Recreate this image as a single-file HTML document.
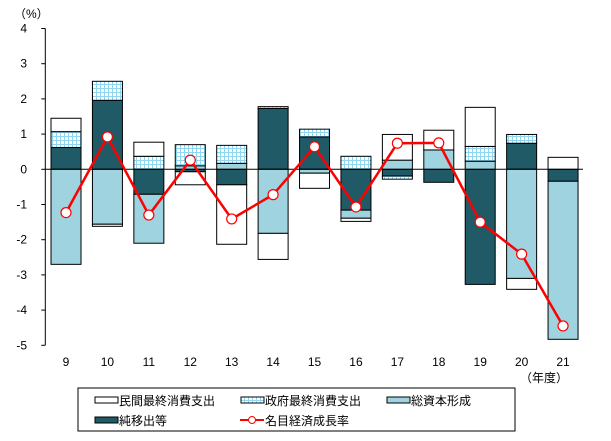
<!DOCTYPE html>
<html><head><meta charset="utf-8"><style>
body{margin:0;background:#fff;}
svg text{font-family:"Liberation Sans","Noto Sans CJK JP",sans-serif;font-size:12px;fill:#000;}
</style></head><body>
<svg width="611" height="436" xmlns="http://www.w3.org/2000/svg">
<defs>
<pattern id="grid" width="4" height="4" patternUnits="userSpaceOnUse">
<rect width="4" height="4" fill="#fff"/>
<path d="M0 0.5H4M0.5 0V4" stroke="#8fd6f0" stroke-width="1"/>
</pattern>
</defs>
<g id="plot"></g>
<text x="14" y="18">（%）</text>
<text x="520" y="382">（年度）</text>
<g>
<rect x="78" y="388" width="437" height="43" fill="#fff" stroke="#000"/>
<rect x="95" y="397" width="23" height="6" fill="#fff" stroke="#000"/>
<text x="119" y="405">民間最終消費支出</text>
<rect x="241" y="397" width="23" height="6" fill="url(#grid)" stroke="#000"/>
<text x="265" y="405">政府最終消費支出</text>
<rect x="387" y="397" width="23" height="6" fill="#9fd3e0" stroke="#000"/>
<text x="411" y="405">総資本形成</text>
<rect x="95" y="417" width="23" height="6" fill="#1f5a66" stroke="#000"/>
<text x="119" y="425">純移出等</text>
<line x1="240" y1="420" x2="264" y2="420" stroke="#f00" stroke-width="2"/>
<circle cx="252" cy="420" r="3.5" fill="#fff" stroke="#f00"/>
<text x="265" y="425">名目経済成長率</text>
</g>
</svg>
<script>
const years=["9","10","11","12","13","14","15","16","17","18","19","20","21"];
const netExport=[0.62,1.96,-0.71,-0.07,-0.44,1.73,0.92,-1.16,-0.19,-0.37,-3.27,0.74,-0.34];
const capital=[-2.7,-1.56,-1.39,0.1,0.17,-1.82,-0.11,-0.23,0.26,0.55,0.23,-3.1,-4.49];
const government=[0.45,0.54,0.37,0.6,0.51,0.05,0.22,0.37,-0.09,0,0.42,0.25,0];
const privateC=[0.38,-0.06,0.4,-0.37,-1.69,-0.74,-0.43,-0.09,0.73,0.56,1.11,-0.31,0.34];
const growth=[-1.23,0.92,-1.3,0.26,-1.41,-0.72,0.64,-1.07,0.74,0.75,-1.5,-2.41,-4.45];
const yTicks=[4,3,2,1,0,-1,-2,-3,-4,-5];
const NS="http://www.w3.org/2000/svg";
const g=document.getElementById('plot');
const y=v=>169.3-v*35.2;
const x0=45.3,band=41.42;
const xc=i=>x0+band*(i+0.5);
function mk(t,a){const e=document.createElementNS(NS,t);for(const k in a)e.setAttribute(k,a[k]);g.appendChild(e);return e;}
let ax=mk('line',{x1:x0,y1:y(4),x2:x0,y2:y(-5),stroke:'#000'});


yTicks.forEach(t=>{
 mk('line',{x1:x0-4,y1:y(t),x2:x0,y2:y(t),stroke:'#000'});
 const tx=mk('text',{x:27,y:y(t)+4,'text-anchor':'end'});tx.textContent=t;
 
 
});
const series=[[netExport,'#1f5a66','netexport'],[capital,'#9fd3e0','capital'],[government,'url(#grid)','government'],[privateC,'#fff','private']];
years.forEach((yr,i)=>{
 let pos=0,neg=0;
 series.forEach(([arr,fill,nm])=>{
  const v=arr[i];if(!v)return;
  let a,b;
  if(v>0){a=pos;b=pos+v;pos=b;}else{a=neg;b=neg+v;neg=b;}
  const r=mk('rect',{x:xc(i)-15,y:Math.min(y(a),y(b)),width:30,height:Math.abs(y(a)-y(b)),fill:fill,stroke:'#000','stroke-width':1});
  
  
 });
 const tx=mk('text',{x:xc(i),y:366,'text-anchor':'middle'});tx.textContent=yr;
 
 
});
const base=mk('line',{x1:x0,y1:y(0),x2:583,y2:y(0),stroke:'#000'});


const ln=mk('polyline',{points:growth.map((v,i)=>xc(i)+','+y(v)).join(' '),fill:'none',stroke:'#f00','stroke-width':2.5});


growth.forEach((v,i)=>{
 const c=mk('circle',{cx:xc(i),cy:y(v),r:5,fill:'#fff',stroke:'#f00','stroke-width':1.2});
 
 
});
</script>
</body></html>
